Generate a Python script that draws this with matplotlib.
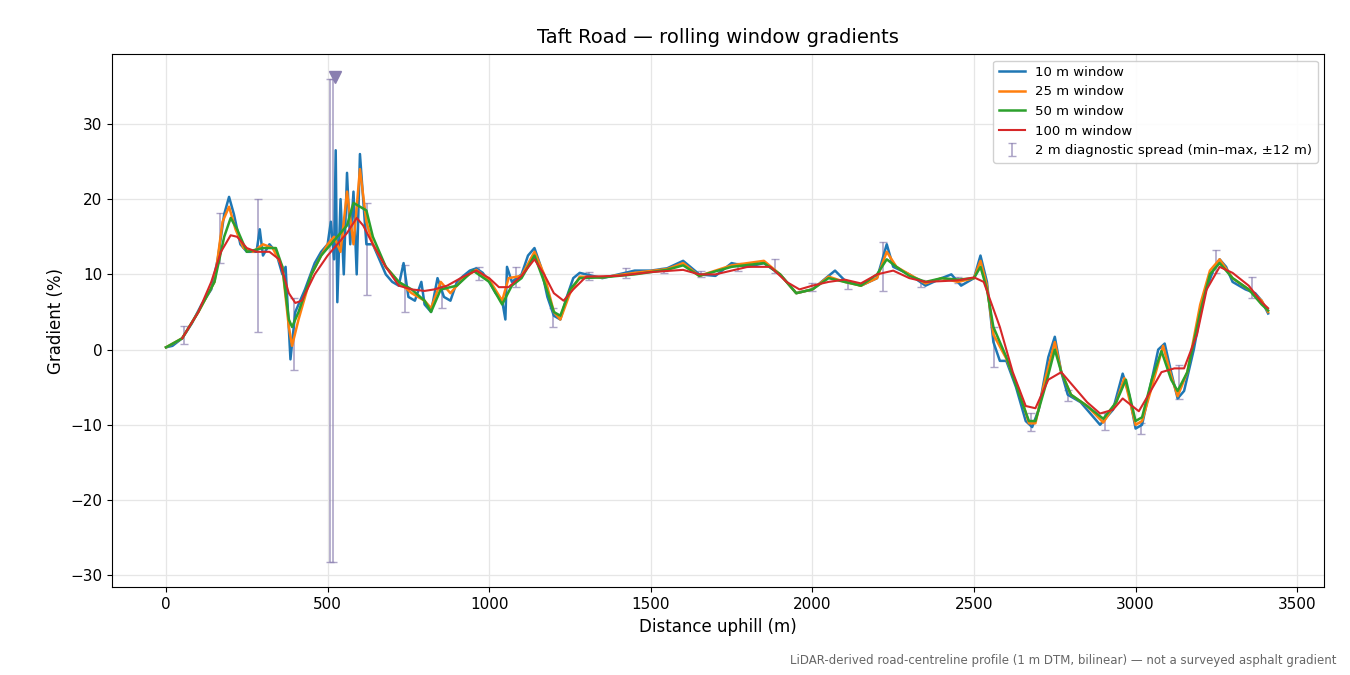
import matplotlib
matplotlib.use("Agg")
import matplotlib.pyplot as plt

b_x = [0,20,50,80,110,140,160,180,195,210,230,250,280,290,300,320,340,360,370,385,400,430,460,480,500,510,520,525,530,540,550,560,570,580,590,600,610,620,640,660,680,700,720,735,750,770,790,800,820,840,860,880,900,920,940,960,980,1000,1020,1040,1050,1055,1070,1100,1120,1140,1160,1180,1200,1220,1240,1260,1280,1300,1350,1400,1450,1500,1550,1600,1650,1700,1750,1800,1850,1900,1950,2000,2050,2070,2100,2150,2200,2230,2250,2300,2350,2400,2430,2460,2500,2520,2540,2560,2580,2600,2630,2660,2680,2700,2730,2750,2770,2790,2830,2860,2890,2930,2960,2980,3000,3020,3040,3070,3090,3110,3130,3150,3180,3210,3240,3260,3280,3300,3340,3370,3390,3410]
b_y = [0.3,0.5,1.5,3.5,6,8,12,18,20.3,18,14,13,13,16,12.5,14,13,10,11,-1.3,5,8,11.5,13,14,17,12,26.5,6.3,20,10,23.5,14,21,10,26,20,14,14,12,10,9,8.5,11.5,7,6.5,9,6,5,9.5,7,6.5,9,9.8,10.5,10.8,10.2,9,7.5,6.5,4,11,9,10,12.5,13.5,11,7,4.5,4,7,9.5,10.2,10,9.5,10,10.5,10.5,10.8,11.8,10,9.8,11.5,11,11.5,10,7.5,8,9.8,10.5,9.2,8.5,9.5,14,11,10,8.5,9.5,10,8.5,9.5,12.5,9,1,-1.5,-1.5,-5,-9.5,-10.3,-8,-1,1.7,-3,-6,-7,-8.5,-10,-8,-3.2,-6,-10.5,-10,-6,0,0.8,-3,-6.5,-5.5,0,7,10.5,12,11,9,8,7.5,6.5,4.8]

o_x = [0,50,100,150,175,195,215,240,270,300,330,360,380,390,410,450,480,500,520,540,560,580,600,620,640,680,720,760,800,820,850,880,920,960,1000,1040,1060,1100,1140,1170,1200,1220,1250,1280,1350,1450,1550,1600,1650,1750,1850,1900,1950,2000,2050,2100,2150,2200,2230,2260,2300,2350,2400,2450,2500,2520,2540,2560,2600,2640,2670,2690,2720,2750,2770,2800,2850,2900,2940,2965,3000,3020,3050,3085,3110,3130,3160,3200,3230,3260,3300,3350,3390,3410]
o_y = [0.3,1.5,5,9,17,19,16,13.5,13,14,13.5,11,3,0.5,4,10,12.5,14,15,13,21,14,24,17,14,11,9,7.5,6.5,5.5,9,7.5,9.5,10.6,9.3,6.5,9.5,9.8,13,10,5,4,7.5,9.7,9.6,10.2,10.7,11.5,9.8,11.2,11.8,10,7.5,8,9.7,9,8.5,9.5,13,11,10,8.8,9.5,9,9.5,11.8,8.5,2,-1.2,-5.5,-9.8,-9.8,-4,1,-3,-6,-7.5,-9.7,-7,-3.8,-10,-9.5,-5,0.5,-3.5,-6.2,-3,6,10.5,12,9.5,8,6.5,5]

g_x = [0,50,100,150,180,200,220,250,300,340,360,380,390,410,450,480,500,530,560,580,600,620,640,680,720,760,800,820,850,900,950,1000,1040,1070,1100,1140,1170,1200,1220,1250,1280,1350,1450,1550,1600,1650,1750,1850,1900,1950,2000,2050,2100,2150,2200,2230,2260,2300,2350,2400,2450,2500,2520,2540,2560,2600,2640,2670,2690,2720,2750,2770,2800,2850,2900,2940,2970,3000,3020,3050,3080,3110,3130,3160,3200,3230,3260,3300,3350,3390,3410]
g_y = [0.3,1.5,5,9,15,17.5,16,13,13.5,13.5,11,4,3,5,10,12.5,13.5,15,16.5,19.5,19,18.5,15,11,9,8,6.5,5,8,8.5,10.5,9,6,8.5,9.5,12.5,9,5,4.5,8,9.5,9.6,10,10.6,11.2,9.8,11,11.5,10,7.5,8,9.5,9,8.5,10,12,11,9.8,9,9.5,9.3,9.5,11,8,3,-1,-6,-9.5,-9.5,-5,0,-3,-6,-7.5,-9.2,-7,-4,-9.5,-9,-4,-0.2,-4,-5.5,-3,5,10,11.5,9.5,8,6,5.2]

r_x = [50,100,140,170,200,220,250,280,320,350,380,400,420,460,500,530,560,590,610,640,680,720,760,800,830,870,920,960,1000,1030,1060,1100,1140,1170,1200,1230,1260,1300,1400,1500,1600,1650,1700,1800,1870,1920,1960,2000,2050,2100,2150,2200,2250,2300,2350,2450,2500,2530,2580,2620,2660,2690,2730,2770,2800,2850,2890,2930,2960,3010,3040,3080,3120,3150,3190,3220,3260,3300,3350,3390,3410]
r_y = [1.5,5,9,13,15.2,15,13.5,13,13,12,7.5,6.2,6.5,10,12.5,14,15.5,17.5,16.5,14,11,8.5,8,7.8,8,8.5,9.7,10.5,9.5,8.3,8.3,9.8,12,10,7.5,6.5,8,9.7,9.8,10.3,10.6,10,10,11,11,9,8,8.5,9,9.3,8.8,10,10.5,9.5,9,9.2,9.6,9,3,-3,-7.5,-7.8,-4,-3,-4.5,-7,-8.5,-8,-6.5,-8.2,-6,-3,-2.5,-2.5,2,8,11,10.2,8.5,6.3,5.5]

e_x = [55,167,285,396,508,517,622,740,854,969,1083,1198,1309,1424,1540,1655,1770,1885,2000,2110,2219,2337,2451,2562,2677,2792,2906,3018,3135,3250,3361]
e_lo = [0.7,11.5,2.3,-2.7,-28.3,-28.3,7.3,5,5.5,9.3,8.3,3,9.3,9.5,10.2,9.6,10.5,10.2,7.8,8,7.8,8.3,8.8,-2.3,-10.8,-6.8,-10.7,-11.2,-6.6,10.2,6.8]
e_hi = [3.1,18.2,20,6.8,36,36,19.5,11.3,8,11,11,5.5,10.3,10.8,10.8,10.4,11.5,12,8.8,9,14.3,9.3,9.7,3,-8.4,-5.4,-8.4,-9.8,-2,13.3,9.6]
clip_x = [523]
clip_y = [36.3]

fig, ax = plt.subplots(figsize=(13.5, 6.75), dpi=100)
fig.subplots_adjust(left=0.083, right=0.981, top=0.92, bottom=0.13)
ax.grid(True, color="#e6e6e6", lw=0.9)
ax.set_axisbelow(True)
mid = [(l + h) / 2 for l, h in zip(e_lo, e_hi)]
err = [[m - l for m, l in zip(mid, e_lo)], [h - m for h, m in zip(e_hi, mid)]]
eb = ax.errorbar(e_x, mid, yerr=err, fmt="none", ecolor="#8a7fb0", alpha=0.7, capsize=3, lw=1.2,
                 label="2 m diagnostic spread (min–max, ±12 m)", zorder=1)
l1, = ax.plot(b_x, b_y, color="#1f77b4", lw=1.8, label="10 m window", zorder=2)
l2, = ax.plot(o_x, o_y, color="#ff7f0e", lw=1.8, label="25 m window", zorder=3)
l3, = ax.plot(g_x, g_y, color="#2ca02c", lw=1.8, label="50 m window", zorder=4)
l4, = ax.plot(r_x, r_y, color="#d62728", lw=1.5, label="100 m window", zorder=5)
ax.plot(clip_x, clip_y, marker="v", ls="none", color="#8a7fb0", ms=8, zorder=6)
ax.set_xlim(-167, 3584)
ax.set_ylim(-31.6, 39.3)
ax.set_xlabel("Distance uphill (m)", fontsize=12)
ax.set_ylabel("Gradient (%)", fontsize=12)
ax.set_title("Taft Road — rolling window gradients", fontsize=14, pad=8)
ax.tick_params(labelsize=11)
hs = [l1, l2, l3, l4, eb]
ax.legend(hs, [h.get_label() for h in hs], loc="upper right", fontsize=9.5, framealpha=0.9)
fig.text(0.99, 0.012, "LiDAR-derived road-centreline profile (1 m DTM, bilinear) — not a surveyed asphalt gradient",
         ha="right", va="bottom", fontsize=8.5, color="#666666")
fig.savefig("out.png", dpi=100)
